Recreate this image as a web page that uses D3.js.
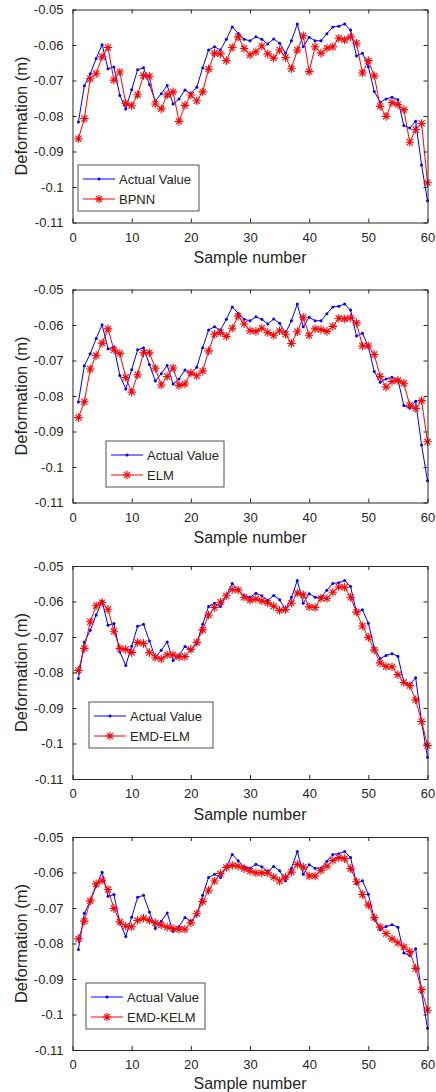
<!DOCTYPE html>
<html lang="en">
<head>
<meta charset="UTF-8">
<title>Deformation prediction comparison</title>
<style>
  body { margin: 0; background: #fff; }
  svg { display: block; font-family: "Liberation Sans", Arial, sans-serif; }
</style>
</head>
<body>
<script src="https://d3js.org/d3.v7.min.js"></script>
<div id="chart"></div>
<script>
// sample index on the x axis
const sampleNumber = [1,2,3,4,5,6,7,8,9,10,11,12,13,14,15,16,17,18,19,20,
  21,22,23,24,25,26,27,28,29,30,31,32,33,34,35,36,37,38,39,40,
  41,42,43,44,45,46,47,48,49,50,51,52,53,54,55,56,57,58,59,60];

// measured deformation (same in all four panels)
const actualValue = [-0.0817,-0.0715,-0.0681,-0.0638,-0.0599,-0.0667,-0.0662,-0.0742,-0.0780,-0.0726,
  -0.0670,-0.0664,-0.0711,-0.0758,-0.0737,-0.0714,-0.0766,-0.0752,-0.0727,-0.0737,
  -0.0719,-0.0664,-0.0614,-0.0605,-0.0614,-0.0584,-0.0549,-0.0567,-0.0584,-0.0588,
  -0.0577,-0.0584,-0.0597,-0.0583,-0.0595,-0.0623,-0.0588,-0.0541,-0.0605,-0.0578,
  -0.0588,-0.0588,-0.0568,-0.0549,-0.0547,-0.0541,-0.0558,-0.0631,-0.0623,-0.0661,
  -0.0731,-0.0761,-0.0752,-0.0747,-0.0754,-0.0827,-0.0834,-0.0815,-0.0938,-0.1039];

// predictions
const bpnnValue = [-0.0864,-0.0807,-0.0695,-0.0681,-0.0633,-0.0607,-0.0699,-0.0676,-0.0764,-0.0771,
  -0.0740,-0.0686,-0.0688,-0.0766,-0.0780,-0.0740,-0.0732,-0.0815,-0.0770,-0.0741,
  -0.0757,-0.0732,-0.0668,-0.0623,-0.0625,-0.0644,-0.0607,-0.0577,-0.0610,-0.0628,
  -0.0619,-0.0603,-0.0625,-0.0637,-0.0614,-0.0635,-0.0667,-0.0614,-0.0574,-0.0675,
  -0.0605,-0.0623,-0.0609,-0.0605,-0.0581,-0.0586,-0.0577,-0.0595,-0.0679,-0.0644,
  -0.0687,-0.0773,-0.0801,-0.0762,-0.0768,-0.0782,-0.0874,-0.0838,-0.0821,-0.0988];

const elmValue = [-0.0861,-0.0816,-0.0724,-0.0686,-0.0651,-0.0611,-0.0670,-0.0680,-0.0748,-0.0789,
  -0.0740,-0.0678,-0.0678,-0.0722,-0.0769,-0.0745,-0.0721,-0.0770,-0.0766,-0.0735,
  -0.0743,-0.0730,-0.0673,-0.0626,-0.0621,-0.0632,-0.0609,-0.0575,-0.0597,-0.0616,
  -0.0618,-0.0609,-0.0621,-0.0629,-0.0616,-0.0626,-0.0652,-0.0619,-0.0578,-0.0629,
  -0.0611,-0.0613,-0.0618,-0.0604,-0.0581,-0.0583,-0.0580,-0.0594,-0.0659,-0.0659,
  -0.0683,-0.0745,-0.0775,-0.0759,-0.0756,-0.0764,-0.0826,-0.0835,-0.0813,-0.0929];

const emdElmValue = [-0.0794,-0.0732,-0.0657,-0.0612,-0.0603,-0.0622,-0.0684,-0.0732,-0.0735,-0.0744,
  -0.0715,-0.0718,-0.0744,-0.0757,-0.0762,-0.0750,-0.0750,-0.0756,-0.0755,-0.0735,
  -0.0715,-0.0680,-0.0638,-0.0617,-0.0602,-0.0584,-0.0566,-0.0568,-0.0588,-0.0596,
  -0.0593,-0.0598,-0.0604,-0.0613,-0.0625,-0.0623,-0.0605,-0.0576,-0.0581,-0.0615,
  -0.0617,-0.0591,-0.0591,-0.0574,-0.0559,-0.0560,-0.0588,-0.0630,-0.0669,-0.0701,
  -0.0737,-0.0773,-0.0783,-0.0784,-0.0806,-0.0828,-0.0837,-0.0877,-0.0938,-0.1006];

const emdKelmValue = [-0.0787,-0.0737,-0.0680,-0.0632,-0.0622,-0.0648,-0.0701,-0.0739,-0.0751,-0.0753,
  -0.0735,-0.0729,-0.0735,-0.0742,-0.0748,-0.0754,-0.0758,-0.0760,-0.0760,-0.0742,
  -0.0716,-0.0682,-0.0650,-0.0624,-0.0603,-0.0586,-0.0580,-0.0582,-0.0589,-0.0596,
  -0.0601,-0.0601,-0.0601,-0.0613,-0.0624,-0.0613,-0.0599,-0.0577,-0.0585,-0.0610,
  -0.0610,-0.0594,-0.0582,-0.0566,-0.0558,-0.0561,-0.0589,-0.0626,-0.0662,-0.0692,
  -0.0727,-0.0754,-0.0772,-0.0787,-0.0798,-0.0810,-0.0823,-0.0870,-0.0930,-0.0988];

const modelNames = ["BPNN", "ELM", "EMD-ELM", "EMD-KELM"];
const xTicks = [0, 10, 20, 30, 40, 50, 60];
const yTicks = [-0.11, -0.1, -0.09, -0.08, -0.07, -0.06, -0.05];
const yTickLabels = ["-0.11", "-0.1", "-0.09", "-0.08", "-0.07", "-0.06", "-0.05"];

const predictions = [bpnnValue, elmValue, emdElmValue, emdKelmValue];

// layout
const width = 436, height = 1092;
const plotLeft = 72.5, plotRight = 427.5, plotH = 213;
const panelTops = [9.5, 289.5, 566, 837];
const titleOffsets = [40.5, 40.5, 40.5, 38.5];
const legendBoxes = [
  {x: 78, y: 165, w: 121},
  {x: 106, y: 441, w: 118},
  {x: 89, y: 702, w: 124},
  {x: 86, y: 983, w: 119}
];
const textColor = "#262626";

const svg = d3.select("#chart").append("svg")
  .attr("width", width)
  .attr("height", height);

const x = d3.scaleLinear().domain([0, 60]).range([plotLeft, plotRight]);

// 8-spoke asterisk like matlab '*'
function starPath(r) {
  const d = r * Math.SQRT1_2;
  return `M${-r},0L${r},0M0,${-r}L0,${r}M${-d},${-d}L${d},${d}M${-d},${d}L${d},${-d}`;
}

modelNames.forEach((name, i) => {
  const top = panelTops[i];
  const bottom = top + plotH;
  const y = d3.scaleLinear().domain([-0.11, -0.05]).range([bottom, top]);
  const g = svg.append("g");

  const actualData = sampleNumber.map((s, k) => ({s: s, v: actualValue[k]}));
  const predData = sampleNumber.map((s, k) => ({s: s, v: predictions[i][k]}));

  const line = d3.line().x(d => x(d.s)).y(d => y(d.v));

  // actual value (blue with dots)
  g.append("path").datum(actualData)
    .attr("d", line)
    .attr("fill", "none")
    .attr("stroke", "#0000ff")
    .attr("stroke-width", 1);
  g.append("g").selectAll("circle")
    .data(actualData)
    .enter().append("circle")
    .attr("cx", d => x(d.s))
    .attr("cy", d => y(d.v))
    .attr("r", 1.5)
    .attr("fill", "#0000ff");

  // prediction (red with stars)
  g.append("path").datum(predData)
    .attr("d", line)
    .attr("fill", "none")
    .attr("stroke", "#ff0000")
    .attr("stroke-width", 1);
  g.append("g").selectAll("path")
    .data(predData)
    .enter().append("path")
    .attr("transform", d => `translate(${x(d.s)},${y(d.v)})`)
    .attr("d", starPath(4.3))
    .attr("fill", "none")
    .attr("stroke", "#ff0000")
    .attr("stroke-width", 1.1);

  // axes (matlab box with inward ticks)
  const axBottom = g.append("g").attr("transform", `translate(0,${bottom})`)
    .call(d3.axisBottom(x).tickValues(xTicks).tickSizeInner(-4).tickSizeOuter(0).tickPadding(10));
  const axTop = g.append("g").attr("transform", `translate(0,${top})`)
    .call(d3.axisTop(x).tickValues(xTicks).tickSizeInner(-4).tickSizeOuter(0).tickFormat(""));
  const axLeft = g.append("g").attr("transform", `translate(${plotLeft},0)`)
    .call(d3.axisLeft(y).tickValues(yTicks).tickSizeInner(-4).tickSizeOuter(0).tickPadding(9)
      .tickFormat((d, k) => yTickLabels[k]));
  const axRight = g.append("g").attr("transform", `translate(${plotRight},0)`)
    .call(d3.axisRight(y).tickValues(yTicks).tickSizeInner(-4).tickSizeOuter(0).tickFormat(""));

  [axBottom, axTop, axLeft, axRight].forEach(a => {
    a.select(".domain").attr("stroke", textColor).attr("stroke-width", 1);
    a.selectAll(".tick line").attr("stroke", textColor);
    a.selectAll("text").attr("fill", textColor)
      .style("font-size", "13px")
      .style("font-family", "'Liberation Sans', Arial, sans-serif");
  });

  // axis titles
  g.append("text")
    .attr("x", (plotLeft + plotRight) / 2)
    .attr("y", bottom + titleOffsets[i])
    .attr("text-anchor", "middle")
    .attr("fill", textColor)
    .style("font-size", "16px")
    .text("Sample number");

  g.append("text")
    .attr("transform", `translate(26.5,${(top + bottom) / 2}) rotate(-90)`)
    .attr("text-anchor", "middle")
    .attr("fill", textColor)
    .style("font-size", "16.5px")
    .text("Deformation (m)");

  // legend
  const lb = legendBoxes[i];
  const leg = g.append("g").attr("transform", `translate(${lb.x},${lb.y})`);
  leg.append("rect")
    .attr("width", lb.w).attr("height", 46)
    .attr("fill", "#fff")
    .attr("stroke", textColor)
    .attr("stroke-width", 0.8);

  const rows = [
    {label: "Actual Value", color: "#0000ff", star: false},
    {label: name, color: "#ff0000", star: true}
  ];
  rows.forEach((r, k) => {
    const ry = 14 + k * 20;
    leg.append("line")
      .attr("x1", 5).attr("x2", 37)
      .attr("y1", ry).attr("y2", ry)
      .attr("stroke", r.color).attr("stroke-width", 1);
    if (r.star) {
      leg.append("path")
        .attr("transform", `translate(21,${ry})`)
        .attr("d", starPath(4.3))
        .attr("fill", "none")
        .attr("stroke", r.color)
        .attr("stroke-width", 1.1);
    } else {
      leg.append("circle")
        .attr("cx", 21).attr("cy", ry).attr("r", 1.5)
        .attr("fill", r.color);
    }
    leg.append("text")
      .attr("x", 41).attr("y", ry)
      .attr("dy", "0.35em")
      .attr("fill", textColor)
      .style("font-size", "13px")
      .text(r.label);
  });
});
</script>
</body>
</html>
